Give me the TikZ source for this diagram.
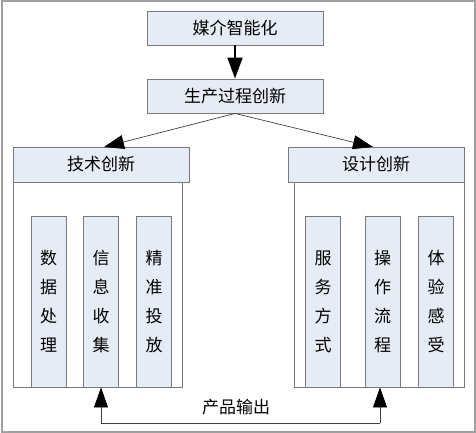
\documentclass[tikz,border=0pt]{standalone}
\usepackage{fontspec}
\setmainfont{Noto Sans CJK SC}
\usetikzlibrary{arrows.meta}
\definecolor{boxfill}{HTML}{E6ECF6}
\definecolor{boxline}{HTML}{7A7A7A}
\definecolor{frameline}{HTML}{A0A0A0}
\tikzset{
  bluebox/.style={draw=boxline,fill=boxfill,line width=0.9pt,inner sep=0pt},
  whitebox/.style={draw=boxline,fill=white,line width=0.9pt,inner sep=0pt},
  colbox/.style={draw=boxline,fill=boxfill,line width=0.9pt,inner sep=0pt,minimum width=35pt,minimum height=171pt,font=\fontsize{17}{29}\selectfont,align=center},
  bigarrow/.style={-{Triangle[length=21pt,width=15pt]},line width=1.8pt,black},
  thinarrow/.style={-{Triangle[length=20pt,width=14pt,color=black]},line width=0.7pt,draw=black!75},
  lbl/.style={font=\fontsize{17}{20}\selectfont}
}
\begin{document}
\begin{tikzpicture}[x=1pt,y=-1pt]
\useasboundingbox (0,0) rectangle (476,433);
\draw[frameline,line width=2pt] (1.5,1.5) rectangle (474.5,431.5);
% top boxes
\node[bluebox,minimum width=176pt,minimum height=34pt,lbl] (media) at (235,28) {媒介智能化};
\node[bluebox,minimum width=176pt,minimum height=34pt,lbl] (proc) at (235,96) {生产过程创新};
\draw[bigarrow] (media.south) -- (proc.north);
% left group
\node[whitebox,minimum width=169pt,minimum height=205pt] (lbody) at (97.5,284.5) {};
\node[bluebox,minimum width=176pt,minimum height=35pt,lbl] (tech) at (101,164.5) {技术创新};
\node[colbox] (c1) at (48.5,301.5) {数\\据\\处\\理};
\node[colbox] (c2) at (101,301.5) {信\\息\\收\\集};
\node[colbox] (c3) at (154,301.5) {精\\准\\投\\放};
% right group
\node[whitebox,minimum width=170pt,minimum height=205pt] (rbody) at (379,284.5) {};
\node[bluebox,minimum width=176pt,minimum height=35pt,lbl] (design) at (376,164.5) {设计创新};
\node[colbox] (d1) at (323,301.5) {服\\务\\方\\式};
\node[colbox] (d2) at (382.5,301.5) {操\\作\\流\\程};
\node[colbox] (d3) at (436,301.5) {体\\验\\感\\受};
% diagonal arrows
\coordinate (ltip) at (104,147);
\coordinate (rtip) at (373,147);
\draw[thinarrow] (proc.south) -- (ltip);
\draw[thinarrow] (proc.south) -- (rtip);
% bottom loop
\coordinate (bl) at (101,423);
\coordinate (br) at (380,423);
\draw[draw=black!75,line width=0.7pt] (br) -- (bl);
\draw[thinarrow] (bl) -- (c2.south);
\draw[thinarrow] (br) -- (d2.south -| br);
\node[lbl,fill=white,inner sep=1pt] (out) at (236,407) {产品输出};
\end{tikzpicture}
\end{document}
